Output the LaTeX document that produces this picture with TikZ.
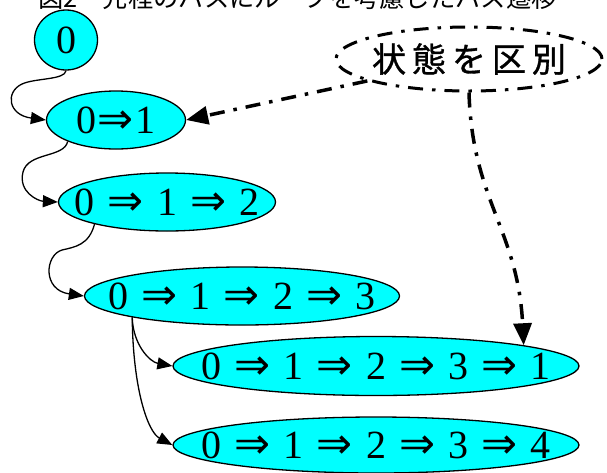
\documentclass[tikz,border=0pt]{standalone}
\usepackage{fontspec}
\setmainfont{Liberation Serif}
\newfontfamily\cjk{Noto Sans CJK JP}
\newfontfamily\cjkb[FakeBold=1]{Noto Sans CJK JP}
\newfontfamily\arr{DejaVu Sans}
\usetikzlibrary{shapes.geometric,arrows.meta}
\definecolor{cy}{RGB}{0,255,255}
\newcommand\Ra{\hspace{13pt}{\arr\fontsize{43}{46}\selectfont ⇒}\hspace{13pt}}
\newcommand\Rt{\hspace{1pt}{\arr\fontsize{43}{46}\selectfont ⇒}\hspace{1pt}}
\begin{document}
\begin{tikzpicture}[x=1pt,y=-1pt,
  st/.style={ellipse,draw=black,line width=1.3pt,fill=cy,inner sep=0pt,
    minimum height=58,font=\fontsize{40}{44}\selectfont},
  solidedge/.style={line width=1.3pt,-{Triangle[length=15pt,width=12pt]}},
  dd/.style={line width=3.5pt,dash pattern=on 15pt off 9pt on 3.5pt off 9pt},
  ddedge/.style={dd,-{Triangle[length=22pt,width=18pt]}}]
\useasboundingbox (0,0) rectangle (607,472);
\node[anchor=base west,inner sep=0pt,font=\cjk\fontsize{25.3}{28}\selectfont] (title) at (38,7.5) {図2　先程のパスにループを考慮したパス遷移};
\node[st,minimum width=63,minimum height=60] (n0) at (66,40) {\makebox[0pt]{0}};
\node[st,minimum width=139] (n1) at (116,120) {\makebox[0pt]{0\Rt 1}};
\node[st,minimum width=217] (n2) at (167,202) {\makebox[0pt]{0\Ra 1\Ra 2}};
\node[st,minimum width=315] (n3) at (242,296) {\makebox[0pt]{0\Ra 1\Ra 2\Ra 3}};
\node[st,minimum width=406,minimum height=59] (n4) at (376,366) {\makebox[0pt]{0\Ra 1\Ra 2\Ra 3\Ra 1}};
\node[st,minimum width=406,minimum height=56] (n5) at (376,445) {\makebox[0pt]{0\Ra 1\Ra 2\Ra 3\Ra 4}};
\node[ellipse,draw=black,dd,line width=3pt,minimum width=266,minimum height=64,inner sep=0pt,
  font=\cjkb\fontsize{34}{40}\selectfont] (sb) at (469,59)
  {\makebox[0pt]{状\hspace{6pt}態\hspace{6pt}を\hspace{6pt}区\hspace{6pt}別}};
\draw[solidedge] (n0.south) .. controls (65,80) and (35,78) .. (22,84) .. controls (5,92) and (8,115) .. (n1.west);
\draw[solidedge] (n1.204) .. controls (64,158) and (28,152) .. (23,172) .. controls (18,192) and (38,201) .. (n2.west);
\draw[solidedge] (n2.197) .. controls (89,245) and (75,247) .. (62,250) .. controls (45,255) and (42,290) .. (n3.west);
\draw[solidedge] (n3.191) .. controls (133,345) and (150,362) .. (n4.west);
\draw[solidedge] (n3.191) .. controls (133,390) and (148,432) .. (n5.west);
\draw[ddedge] (sb) -- (n1.east);
\draw[ddedge] (sb.south) .. controls (472,200) and (518,230) .. (n4.8);
\end{tikzpicture}
\end{document}
